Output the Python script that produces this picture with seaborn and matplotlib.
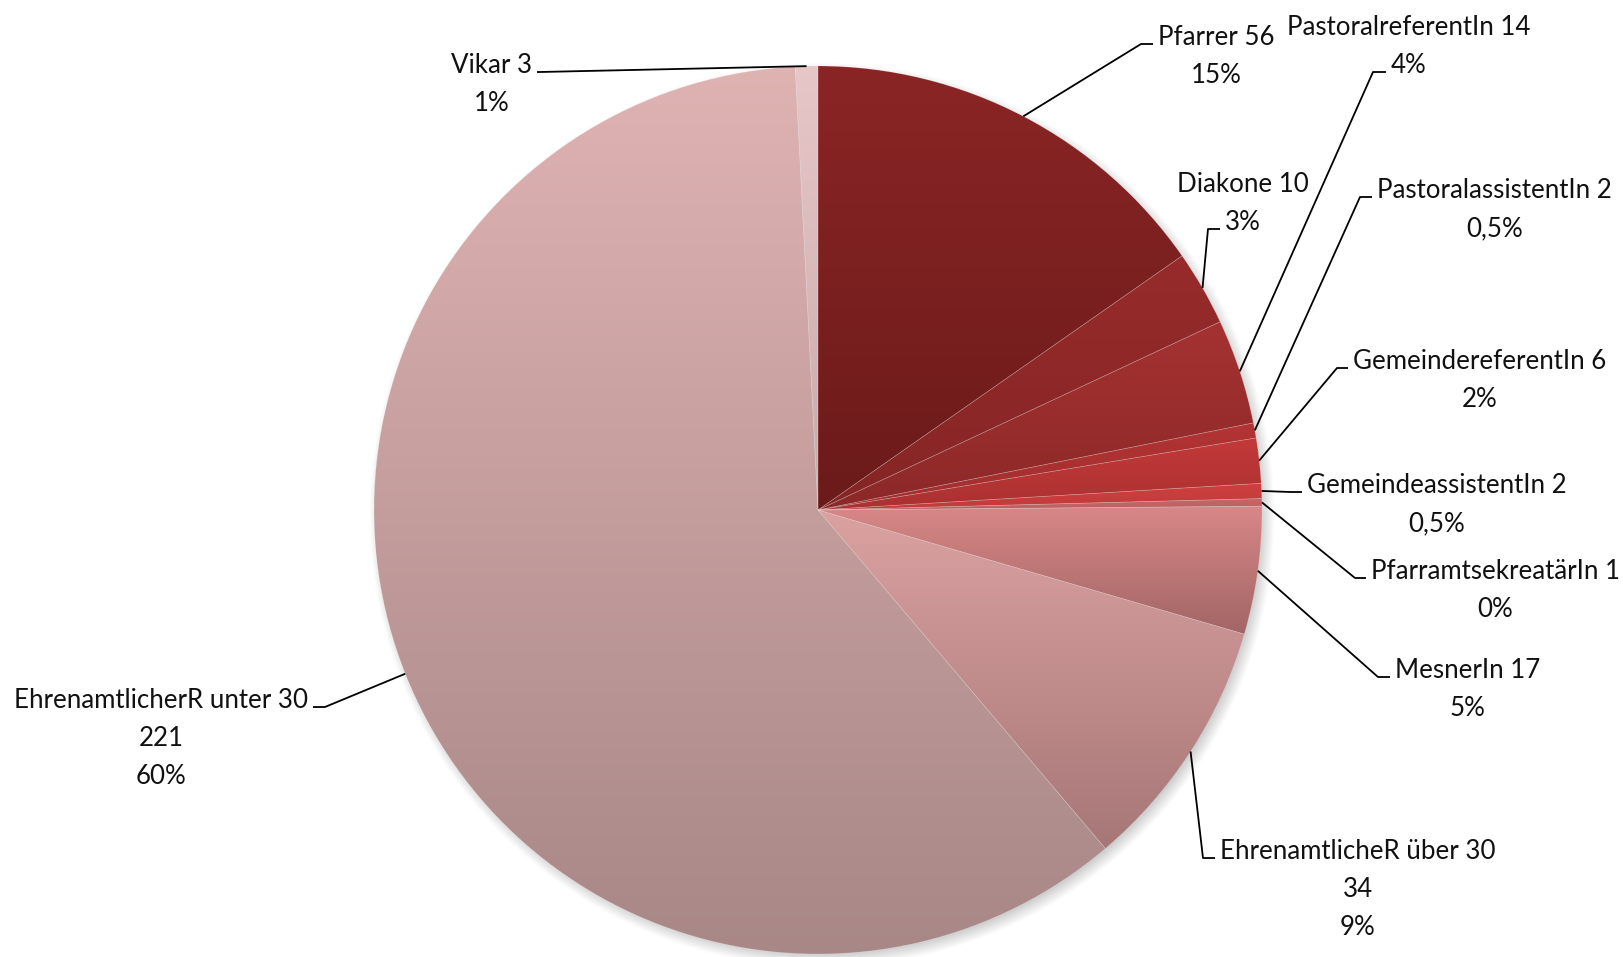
import numpy as np
import matplotlib
matplotlib.use("Agg")
import matplotlib.pyplot as plt
import seaborn as sns
from matplotlib import font_manager
from matplotlib.colors import to_rgb

# ---- data -------------------------------------------------------------
categories = ["Pfarrer", "Diakone", "PastoralreferentIn", "PastoralassistentIn",
              "GemeindereferentIn", "GemeindeassistentIn", "PfarramtsekreatärIn",
              "MesnerIn", "EhrenamtlicheR über 30", "EhrenamtlicherR unter 30", "Vikar"]
counts = [56, 10, 14, 2, 6, 2, 1, 17, 34, 221, 3]
percent_labels = ["15%", "3%", "4%", "0,5%", "2%", "0,5%", "0%", "5%", "9%", "60%", "1%"]
count_on_own_line = [False, False, False, False, False, False, False, False, True, True, False]

# vertical gradient per slice: (top colour, bottom colour)
top_colors = ["#8B2525", "#982B2B", "#A63232", "#B53434", "#C53A3A", "#D04040",
              "#C86868", "#DA8888", "#DCA2A2", "#E0B3B3", "#E7C7C7"]
bottom_colors = ["#6B1A1A", "#852525", "#8C2828", "#A02D2D", "#A93030", "#C03A3A",
                 "#B86060", "#A06464", "#A67676", "#A88787", "#C9AAAA"]

# ---- layout (pixel space of the 1623x957 canvas) -----------------------
W, H = 1623, 957
CX, CY, R = 818, 510, 444
# leader: elbow point, end point, index of the label line it attaches to, side
leaders = [
    ((1141, 44), (1153, 44), 0, "left"),
    ((1208, 229), (1220, 229), 1, "left"),
    ((1373, 72), (1386, 72), 1, "left"),
    ((1360, 197), (1372, 197), 0, "left"),
    ((1337, 368), (1348, 368), 0, "left"),
    ((1290, 492), (1302, 492), 0, "left"),
    ((1355, 578), (1366, 578), 0, "left"),
    ((1378, 677), (1390, 677), 0, "left"),
    ((1203, 858), (1215, 858), 0, "left"),
    ((325, 707), (313, 707), 0, "right"),
    ((540, 72), (537, 72), 0, "right"),
]
# intended pixel width of each label's first line, used to size the font
first_line_widths = [115, 130, 242, 233, 251, 261, 250, 144, 277, 292, 82]
LINE_STEP = 38
GAP = 5


def p2d(px, py):
    return (px - CX) / R, (CY - py) / R


sns.set_theme(style="white")
fonts = font_manager.fontManager.ttflist
installed = {f.name for f in fonts}
if "Liberation Sans Narrow" in installed:
    family = "Liberation Sans Narrow"
elif "Lato" in installed:
    family = "Lato"
else:
    family = "Liberation Sans"
weight = 400
plt.rcParams["font.family"] = [family, "DejaVu Sans"]

fig = plt.figure(figsize=(W / 100, H / 100), dpi=100)
fig.patch.set_facecolor("white")
ax = fig.add_axes([0, 0, 1, 1])

wedges, _ = ax.pie(counts, startangle=90, counterclock=False, radius=1, center=(0, 0),
                   wedgeprops=dict(linewidth=0.5, edgecolor=(1, 1, 1, 0.2)))
ax.set_xlim(-CX / R, (W - CX) / R)
ax.set_ylim(-(H - CY) / R, CY / R)
ax.set_aspect("auto")
ax.axis("off")

# soft drop shadow under the pie
sx = np.linspace(-1.15, 1.15, 600)
gx, gy = np.meshgrid(sx, sx[::-1])
dist = np.hypot(gx - 4 / R, gy + 5 / R)
blur = 9 / R
shadow = np.zeros((600, 600, 4))
shadow[..., :3] = 0.45
shadow[..., 3] = 0.45 * np.clip((1 + blur - dist) / (2 * blur), 0, 1)
ax.imshow(shadow, extent=(-1.15, 1.15, -1.15, 1.15), zorder=0.5,
          interpolation="bilinear", aspect="auto")

# gradient fill for each slice
for w, ctop, cbot in zip(wedges, top_colors, bottom_colors):
    angs = np.radians(np.linspace(w.theta1, w.theta2, 200))
    ys = np.concatenate([np.sin(angs) * w.r, [0.0]])
    xs = np.concatenate([np.cos(angs) * w.r, [0.0]])
    t = np.linspace(0, 1, 256)[:, None]
    grad = (1 - t) * np.array(to_rgb(ctop)) + t * np.array(to_rgb(cbot))
    img = ax.imshow(grad[:, None, :],
                    extent=(xs.min() - 0.01, xs.max() + 0.01, ys.min() - 0.01, ys.max() + 0.01),
                    origin="upper", aspect="auto", interpolation="bilinear", zorder=1)
    img.set_clip_path(w)
    w.set_facecolor("none")
    w.set_zorder(2)

# label text: pick a size so the label widths fit the layout
first_lines = [name if own else f"{name} {n}"
               for name, n, own in zip(categories, counts, count_on_own_line)]
fig.canvas.draw()
renderer = fig.canvas.get_renderer()
probe_size = 22
measured = 0.0
for s in first_lines:
    tt = ax.text(0, 0, s, fontsize=probe_size, family=[family, "DejaVu Sans"], weight=weight)
    measured += tt.get_window_extent(renderer).width
    tt.remove()
font_size = min(23.0, probe_size * sum(first_line_widths) / measured)

text_kw = dict(fontsize=font_size, color="#111111", family=[family, "DejaVu Sans"],
               weight=weight)
for w, name, n, pct, own, (elbow, end, k, side) in zip(
        wedges, categories, counts, percent_labels, count_on_own_line, leaders):
    mid = np.radians((w.theta1 + w.theta2) / 2)
    start = (np.cos(mid) * w.r, np.sin(mid) * w.r)
    pts = [start, p2d(*elbow), p2d(*end)]
    ax.plot([p[0] for p in pts], [p[1] for p in pts], color="black", lw=1.3,
            solid_capstyle="butt", zorder=3)

    lines = [name, str(n), pct] if own else [f"{name} {n}", pct]
    base_y = end[1] + 1
    ax_x = end[0] + GAP if side == "left" else end[0] - GAP
    t0 = ax.text(*p2d(ax_x, base_y), lines[k], ha=side, va="baseline", **text_kw)
    bb = t0.get_window_extent(renderer)
    cx_px = (bb.x0 + bb.x1) / 2
    for i, line in enumerate(lines):
        if i == k:
            continue
        ax.text(*p2d(cx_px, base_y + (i - k) * LINE_STEP), line, ha="center",
                va="baseline", **text_kw)

fig.savefig("out.png", dpi=100, facecolor="white")
